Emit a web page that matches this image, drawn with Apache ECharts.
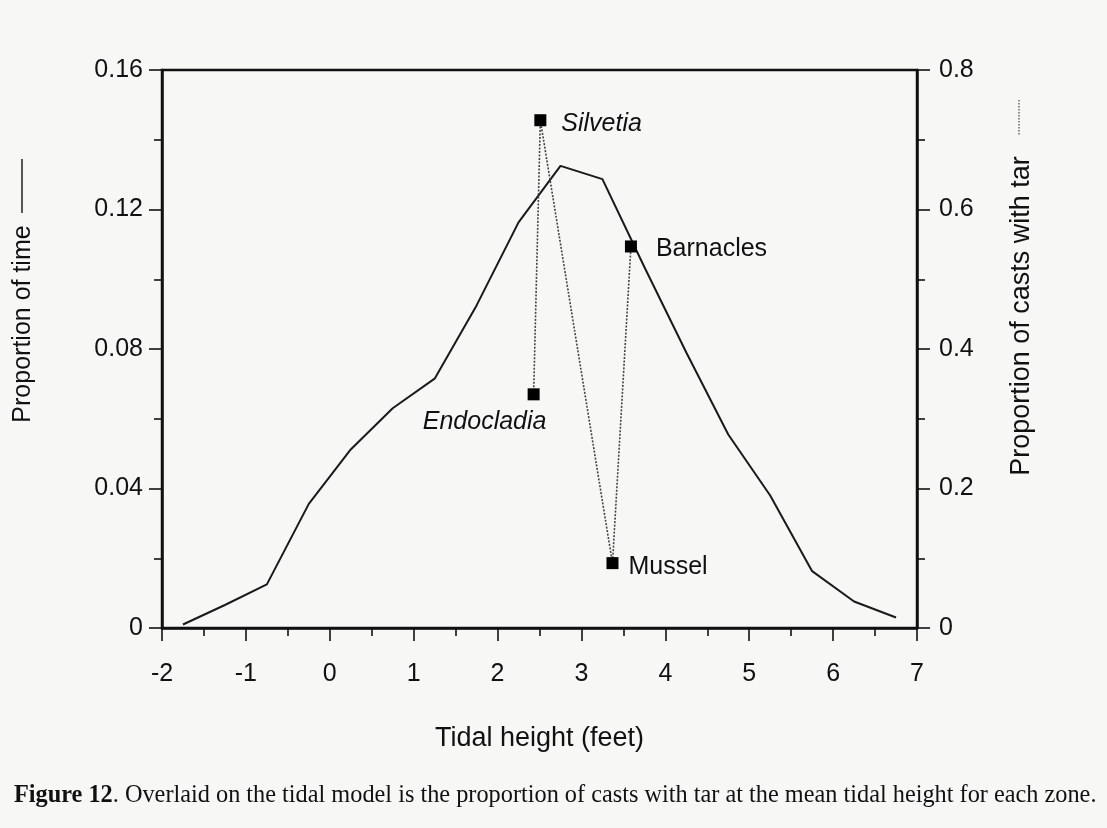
<!DOCTYPE html>
<html>
<head>
<meta charset="utf-8">
<title>Tidal model and casts with tar</title>
<script src="https://cdn.jsdelivr.net/npm/echarts@6/dist/echarts.min.js"></script>
<style>
  html, body { margin: 0; padding: 0; background: #f7f7f6; }
  #chart { width: 1107px; height: 828px; }
</style>
</head>
<body>
<div id="chart"></div>
<script>
// Tidal model: proportion of time spent at each tidal height (left axis)
const tidalHeight = [-1.75, -1.25, -0.75, -0.25, 0.25, 0.75, 1.25, 1.75, 2.25, 2.75, 3.25, 3.75, 4.25, 4.75, 5.25, 5.75, 6.25, 6.75];
const proportionOfTime = [0.001, 0.0066, 0.0125, 0.0356, 0.0512, 0.063, 0.0715, 0.0925, 0.1163, 0.1325, 0.1287, 0.1035, 0.079, 0.0555, 0.038, 0.0163, 0.0076, 0.003];

// Zones: mean tidal height and proportion of casts with tar (right axis)
const zoneNames = ['Endocladia', 'Silvetia', 'Mussel', 'Barnacles'];
const zoneItalic = [true, true, false, false];
const zoneHeight = [2.43, 2.51, 3.37, 3.59];
const castsWithTar = [0.335, 0.728, 0.093, 0.547];

// Axis ranges and tick steps
const xRange = [-2, 7], xStep = 1;
const timeRange = [0, 0.16], timeStep = 0.04;
const tarRange = [0, 0.8], tarStep = 0.2;

const captionBold = 'Figure 12';
const captionText = '. Overlaid on the tidal model is the proportion of casts with tar at the mean tidal height for each zone.';

const SANS = '"Liberation Sans", Arial, Helvetica, sans-serif';
const SERIF = '"Liberation Serif", "Times New Roman", serif';
const INK = '#111';

const chart = echarts.init(document.getElementById('chart'));

// label placement per zone
const labelPlacement = {
  Endocladia: { position: 'bottom', distance: 9, offset: [-49, 0] },
  Silvetia: { position: 'right', distance: 15, offset: [0, 4] },
  Mussel: { position: 'right', distance: 10, offset: [0, 4] },
  Barnacles: { position: 'right', distance: 19, offset: [0, 3] }
};

const zoneData = zoneNames.map((n, i) => ({
  value: [zoneHeight[i], castsWithTar[i]],
  name: n,
  label: Object.assign({
    show: true,
    formatter: n,
    fontStyle: zoneItalic[i] ? 'italic' : 'normal'
  }, labelPlacement[n])
}));

const axisCommon = {
  axisLine: { show: true, onZero: false, lineStyle: { color: INK, width: 2.5 } },
  axisTick: { show: true, inside: false, length: 13, lineStyle: { color: INK, width: 1.6 } },
  minorTick: { show: true, splitNumber: 2, length: 8, lineStyle: { color: INK, width: 1.6 } },
  splitLine: { show: false },
  minorSplitLine: { show: false },
  axisLabel: { color: INK, fontFamily: SANS, fontSize: 25 }
};

chart.setOption({
  backgroundColor: '#f7f7f6',
  animation: false,
  title: {
    text: '{b|' + captionBold + '}' + captionText,
    left: 9,
    top: 779,
    textStyle: {
      fontFamily: SERIF, fontSize: 24.3, fontWeight: 'normal', color: INK,
      rich: { b: { fontFamily: SERIF, fontSize: 24.3, fontWeight: 'bold', color: INK } }
    }
  },
  grid: {
    left: 162, right: 190, top: 70, bottom: 200,
    show: true, borderColor: INK, borderWidth: 2.5, backgroundColor: 'transparent'
  },
  xAxis: Object.assign({}, axisCommon, {
    type: 'value',
    min: xRange[0], max: xRange[1], interval: xStep,
    name: 'Tidal height (feet)',
    nameLocation: 'middle',
    nameGap: 97,
    nameTextStyle: { color: INK, fontFamily: SANS, fontSize: 27 },
    axisLabel: Object.assign({}, axisCommon.axisLabel, { margin: 34 })
  }),
  yAxis: [
    Object.assign({}, axisCommon, {
      type: 'value',
      min: timeRange[0], max: timeRange[1], interval: timeStep,
      position: 'left',
      axisLabel: Object.assign({}, axisCommon.axisLabel, { margin: 19 })
    }),
    Object.assign({}, axisCommon, {
      type: 'value',
      min: tarRange[0], max: tarRange[1], interval: tarStep,
      position: 'right',
      axisLabel: Object.assign({}, axisCommon.axisLabel, { margin: 22 })
    })
  ],
  graphic: [
    // left axis title with its solid-line key
    {
      type: 'text', x: 23, y: 324, rotation: Math.PI / 2,
      style: { text: 'Proportion of time', fontFamily: SANS, fontSize: 25, fill: INK, align: 'center', verticalAlign: 'middle' }
    },
    {
      type: 'line', shape: { x1: 22, y1: 159, x2: 22, y2: 213 },
      style: { stroke: '#222', lineWidth: 1.5 }
    },
    // right axis title with its dotted-line key
    {
      type: 'text', x: 1022, y: 316, rotation: Math.PI / 2,
      style: { text: 'Proportion of casts with tar', fontFamily: SANS, fontSize: 27, fill: INK, align: 'center', verticalAlign: 'middle' }
    },
    {
      type: 'line', shape: { x1: 1019, y1: 100, x2: 1019, y2: 136 },
      style: { stroke: '#444', lineWidth: 1.2, lineDash: [1.5, 1.5] }
    }
  ],
  series: [
    {
      name: 'Proportion of time',
      type: 'line',
      yAxisIndex: 0,
      data: tidalHeight.map((x, i) => [x, proportionOfTime[i]]),
      showSymbol: false,
      symbol: 'none',
      lineStyle: { color: '#1a1a1a', width: 2 },
      z: 3
    },
    {
      name: 'Proportion of casts with tar',
      type: 'line',
      yAxisIndex: 1,
      data: zoneData,
      symbol: 'rect',
      symbolSize: 12,
      itemStyle: { color: '#000' },
      lineStyle: { color: '#444', width: 1.6, type: [2, 1.5] },
      label: { color: INK, fontFamily: SANS, fontSize: 25 },
      z: 4
    }
  ]
});
</script>
</body>
</html>
